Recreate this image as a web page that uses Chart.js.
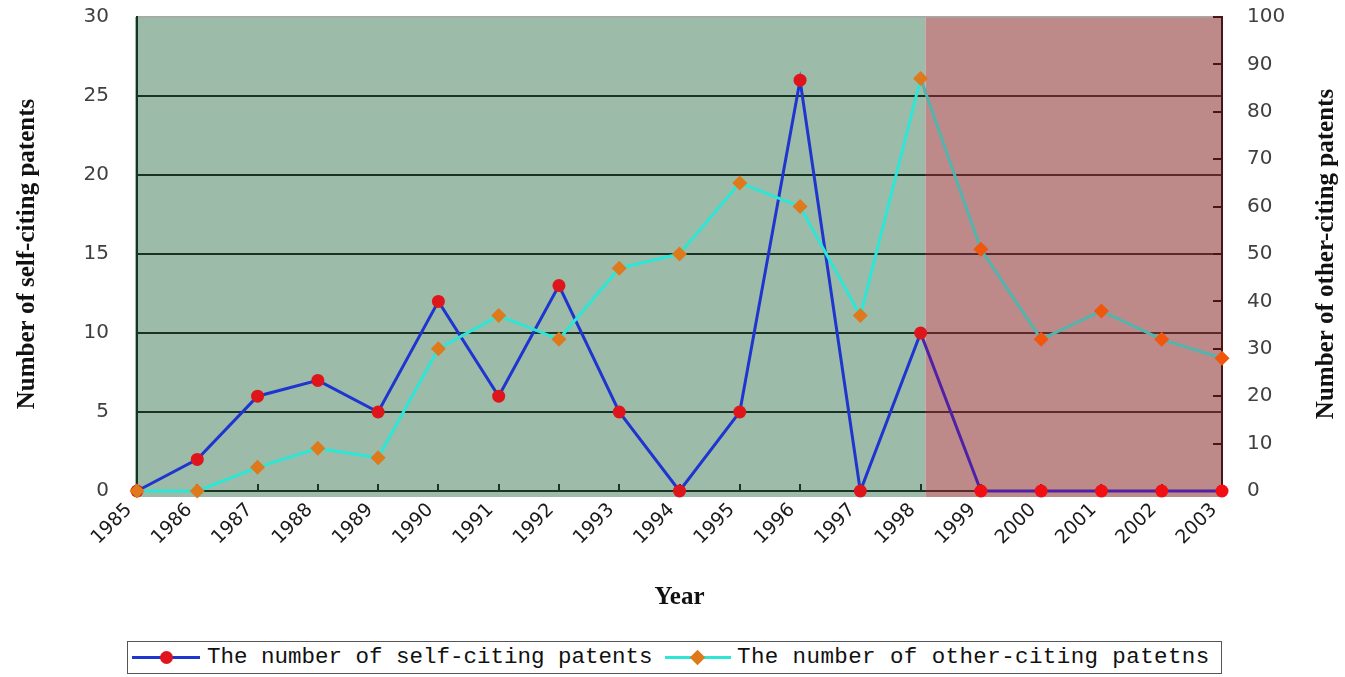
<!DOCTYPE html>
<html>
<head>
<meta charset="utf-8">
<script src="https://cdn.jsdelivr.net/npm/chart.js@4/dist/chart.umd.min.js"></script>
<style>
  body { margin: 0; background: #fff; }
  #wrap { position: relative; width: 1345px; height: 677px; }
  #legenda {
    position: absolute; left: 127px; top: 641px; width: 1093px; height: 31px;
    border: 1px solid #555; background: #fff;
    font-family: "Liberation Mono", monospace; font-size: 22.5px; color: #111;
  }
  .item { position: absolute; top: 0; height: 31px; line-height: 31px; white-space: nowrap; }
  .marca { position: absolute; top: 0; height: 31px; }
  .marca .linha { position: absolute; left: 0; right: 0; top: 14px; height: 3px; }
  .marca .ponto { position: absolute; top: 9px; width: 13px; height: 13px; }
</style>
</head>
<body>
<div id="wrap">
  <canvas id="meuGrafico"></canvas>
  <div id="legenda">
    <div class="marca" style="left:4px;width:68px">
      <div class="linha" style="background:#1F35D0"></div>
      <div class="ponto" style="left:28px;background:#E0141C;border-radius:50%"></div>
    </div>
    <div class="item" style="left:79px">The number of self-citing patents</div>
    <div class="marca" style="left:537px;width:66px">
      <div class="linha" style="background:#2EE6D6"></div>
      <div class="ponto" style="left:27px;width:11px;height:11px;top:10px;background:#DE7A1C;transform:rotate(45deg)"></div>
    </div>
    <div class="item" style="left:609px;letter-spacing:0.4px">The number of other-citing patetns</div>
  </div>
</div>
<script>
// --- DADOS ---
const anos = ['1985', '1986', '1987', '1988', '1989', '1990', '1991', '1992', '1993', '1994',
              '1995', '1996', '1997', '1998', '1999', '2000', '2001', '2002', '2003'];
const autoCitacoes = [0, 2, 6, 7, 5, 12, 6, 13, 5, 0, 5, 26, 0, 10, 0, 0, 0, 0, 0];
const outrasCitacoes = [0, 0, 5, 9, 7, 30, 37, 32, 47, 50, 65, 60, 37, 87, 51, 32, 38, 32, 28];
const eixoEsq = [0, 30, 5];     // min, max, passo
const eixoDir = [0, 100, 10];
const inicioFaixa = 13.08;      // posição (categoria) onde começa a faixa vermelha

const VERDE = '#9CBBA8', VERMELHO = '#BE8A89';
const GRADE = '#1B3325', GRADE_VERM = '#5C2A2A';
const fonteTick = { family: 'DejaVu Sans', size: 19 };
const fonteTitulo = { family: 'Liberation Serif', size: 25, weight: 'bold' };

// fundo verde/vermelho, grade recolorida na faixa e marcas internas dos eixos
const fundo = {
    id: 'fundo',
    beforeDraw(chart) {
        const { ctx, chartArea: a, scales: { x } } = chart;
        const corte = x.getPixelForValue(inicioFaixa);
        ctx.save();
        ctx.fillStyle = VERDE;
        ctx.fillRect(a.left - 2, a.top, corte - a.left + 2, a.bottom - a.top + 6);
        ctx.fillStyle = VERMELHO;
        ctx.fillRect(corte, a.top, a.right - corte, a.bottom - a.top + 6);
        ctx.restore();
    },
    beforeDatasetsDraw(chart) {
        const { ctx, chartArea: a, scales: { x, y, y2 } } = chart;
        const corte = x.getPixelForValue(inicioFaixa);
        ctx.save();
        ctx.lineWidth = 2;
        ctx.strokeStyle = GRADE_VERM;
        y.ticks.forEach(t => {
            if (t.value >= eixoEsq[1]) return;
            const py = Math.round(y.getPixelForValue(t.value));
            ctx.beginPath();
            ctx.moveTo(corte, py);
            ctx.lineTo(a.right - 1, py);
            ctx.stroke();
        });
        // marcas do eixo direito (para dentro)
        ctx.strokeStyle = '#4A1515';
        y2.ticks.forEach(t => {
            const py = Math.round(y2.getPixelForValue(t.value));
            ctx.beginPath();
            ctx.moveTo(a.right - 9, py);
            ctx.lineTo(a.right, py);
            ctx.stroke();
        });
        // marcas do eixo x (para cima)
        anos.forEach((_, i) => {
            if (i === 0 || i === anos.length - 1) return;
            const px = Math.round(x.getPixelForTick(i));
            ctx.strokeStyle = px > corte ? GRADE_VERM : GRADE;
            ctx.beginPath();
            ctx.moveTo(px, a.bottom);
            ctx.lineTo(px, a.bottom - 7);
            ctx.stroke();
        });
        ctx.restore();
    },
    afterDraw(chart) {
        // título do eixo direito, lido de baixo para cima
        const { ctx, chartArea: a } = chart;
        ctx.save();
        ctx.translate(1327, (a.top + a.bottom) / 2);
        ctx.rotate(-Math.PI / 2);
        ctx.font = 'bold 25px "Liberation Serif"';
        ctx.fillStyle = '#111';
        ctx.textAlign = 'center';
        ctx.textBaseline = 'middle';
        ctx.fillText('Number of other-citing patents', 0, 0);
        ctx.restore();
    }
};

// sem folga extra acima/abaixo dos eixos verticais
const semFolga = s => { s.paddingTop = 0; s.paddingBottom = 0; };

const ctx = document.getElementById('meuGrafico').getContext('2d');
const grafico = new Chart(ctx, {
    type: 'line',
    data: {
        labels: anos,
        datasets: [{
            label: 'The number of other-citing patetns',
            data: outrasCitacoes,
            yAxisID: 'y2',
            order: 1,
            borderColor: '#2EE6D6',
            borderWidth: 3,
            segment: { borderColor: c => c.p0DataIndex >= 13 ? '#52B4AC' : undefined },
            pointStyle: 'rectRot',
            pointRadius: 7.5,
            pointBackgroundColor: c => c.dataIndex > 13 ? '#F0560C' : '#DE7A1C',
            pointBorderColor: c => c.dataIndex > 13 ? '#F0560C' : '#DE7A1C',
            pointBorderWidth: 0,
            tension: 0,
            clip: false
        }, {
            label: 'The number of self-citing patents',
            data: autoCitacoes,
            yAxisID: 'y',
            order: 2,
            borderColor: '#1F35D0',
            borderWidth: 3,
            segment: { borderColor: c => c.p0DataIndex >= 13 ? '#4E22A6' : undefined },
            pointStyle: 'circle',
            pointRadius: 6.5,
            pointBackgroundColor: c => c.dataIndex > 13 ? '#F20E12' : '#DE161C',
            pointBorderColor: c => c.dataIndex > 13 ? '#F20E12' : '#DE161C',
            pointBorderWidth: 0,
            tension: 0,
            clip: false
        }]
    },
    options: {
        responsive: true,
        maintainAspectRatio: false,
        animation: false,
        layout: { padding: { top: 17, left: 0, right: 0, bottom: 52 } },
        plugins: { legend: { display: false }, tooltip: { enabled: false } },
        scales: {
            x: {
                offset: false,
                grid: { display: false, drawTicks: false },
                border: { display: true, color: GRADE, width: 2 },
                ticks: {
                    autoSkip: false, minRotation: 45, maxRotation: 45, padding: 8, labelOffset: -8,
                    color: '#1a1a1a', font: fonteTick
                },
                title: { display: true, text: 'Year', color: '#111', font: fonteTitulo, padding: { bottom: 12 } },
                afterFit: s => { s.height = 134; }
            },
            y: {
                position: 'left',
                min: eixoEsq[0], max: eixoEsq[1],
                ticks: { stepSize: eixoEsq[2], padding: 28, color: '#404040', font: { family: 'DejaVu Sans', size: 20 } },
                grid: {
                    drawTicks: false,
                    color: c => c.tick.value === eixoEsq[1] ? '#A8A8A8' : GRADE,
                    lineWidth: c => c.tick.value === eixoEsq[1] ? 1.5 : 2
                },
                border: { display: true, color: '#173322', width: 2 },
                title: { display: true, text: 'Number of self-citing patents', color: '#111', font: fonteTitulo, padding: { top: 13 } },
                afterFit: s => { s.width = 137; semFolga(s); }
            },
            y2: {
                position: 'right',
                min: eixoDir[0], max: eixoDir[1],
                ticks: { stepSize: eixoDir[2], padding: 25, color: '#404040', font: { family: 'DejaVu Sans', size: 20 } },
                grid: { drawOnChartArea: false, drawTicks: false },
                border: { display: true, color: '#4A1515', width: 2 },
                afterFit: s => { s.width = 123; semFolga(s); }
            }
        }
    },
    plugins: [fundo]
});
</script>
</body>
</html>
